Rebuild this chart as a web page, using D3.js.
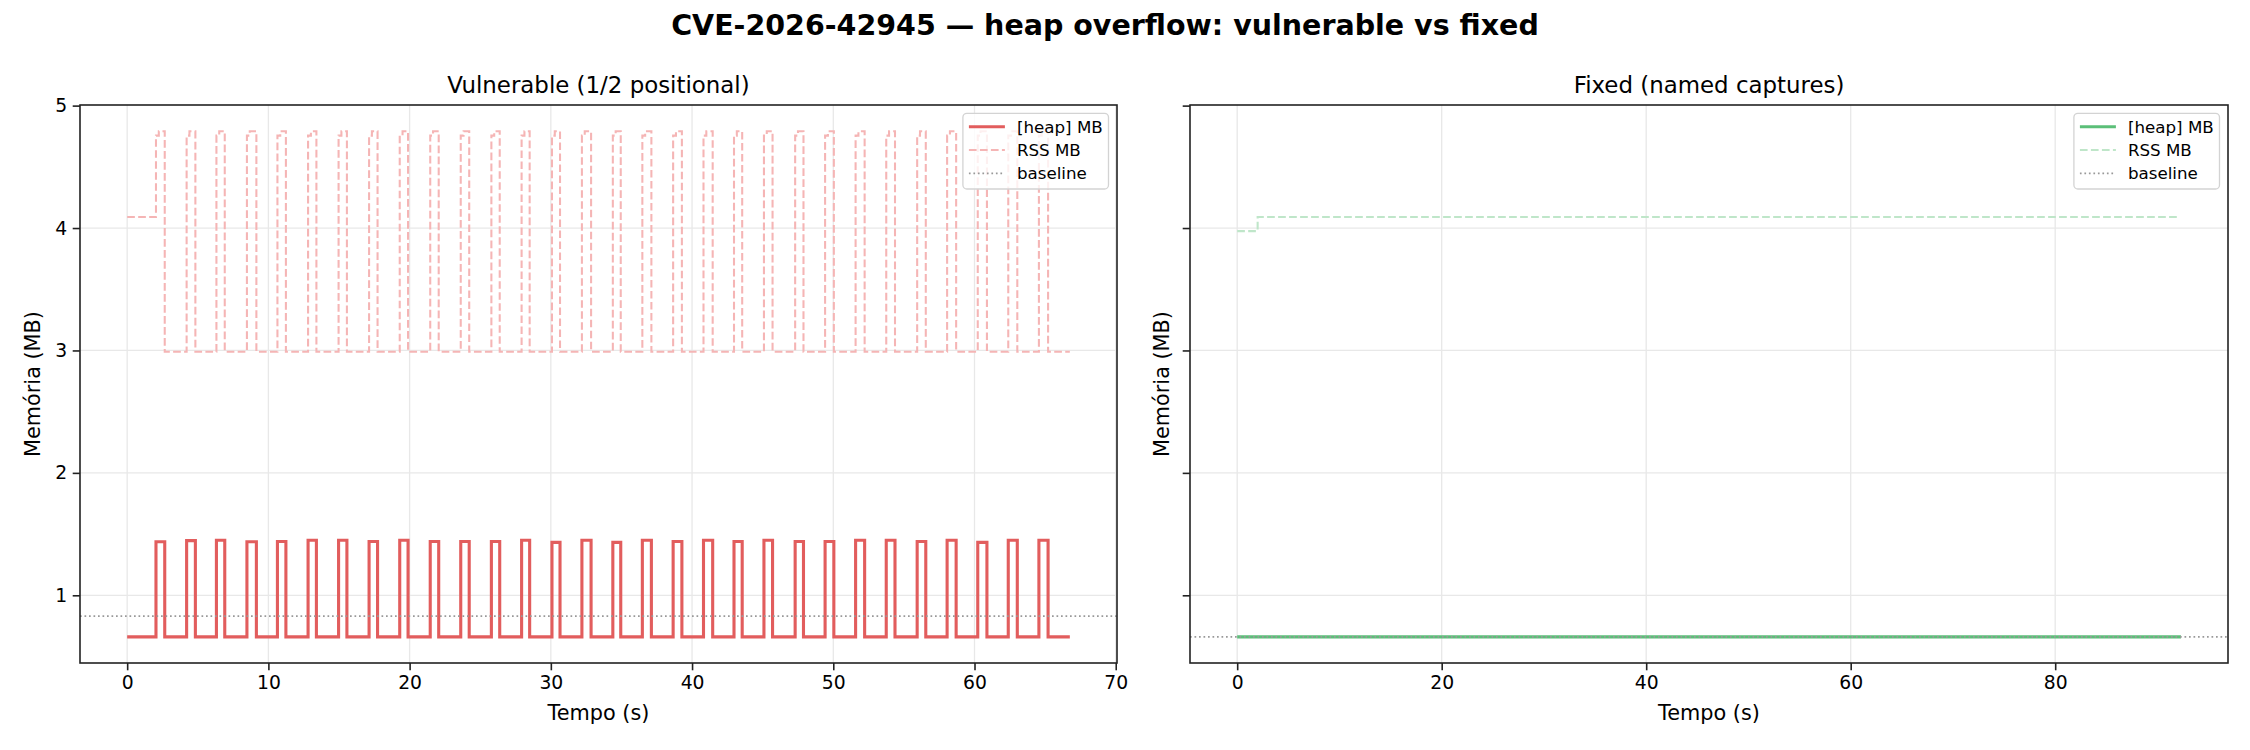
<!DOCTYPE html>
<html><head><meta charset="utf-8">
<script src="https://cdn.jsdelivr.net/npm/d3@7"></script>
<style>body{margin:0;background:#fff} text{font-family:"DejaVu Sans",sans-serif}</style>
</head><body><svg id="c" width="2250" height="750"></svg>
<script>
// ---------- data ----------
const vulnRise = [2.04, 4.21, 6.32, 8.48, 10.64, 12.81, 14.97, 17.13, 19.30, 21.46, 23.62, 25.79, 27.93, 30.08, 32.2,
                  34.39, 36.48, 38.66, 40.81, 42.97, 45.09, 47.3, 49.42, 51.58, 53.75, 55.94, 58.06, 60.23, 62.39, 64.56];
const vulnFall = [2.66, 4.83, 6.91, 9.15, 11.24, 13.40, 15.56, 17.73, 19.89, 22.06, 24.22, 26.38, 28.5, 30.65, 32.85,
                  34.95, 37.12, 39.28, 41.46, 43.55, 45.70, 47.89, 50.04, 52.22, 54.37, 56.55, 58.70, 60.88, 63.03, 65.21];
const vulnHeapPeak = [1.437, 1.447, 1.45, 1.437, 1.44, 1.45, 1.45, 1.44, 1.45, 1.44, 1.44, 1.44, 1.45, 1.432, 1.45,
                      1.432, 1.45, 1.44, 1.45, 1.44, 1.45, 1.44, 1.44, 1.45, 1.45, 1.44, 1.45, 1.432, 1.45, 1.45];
const vulnHeapLow = 0.66;
const vulnRssStart = 4.09;
const vulnRssRise = 4.755;
const vulnRssPeak = 4.79;
const vulnRssLow = 2.99;
const vulnRssStepDelay = 0.2;
const vulnEnd = 66.75;
const vulnBaseline = 0.83;

const fixedHeapTimes = [0, 92.3];
const fixedHeapValues = [0.66, 0.66];
const fixedRssTimes = [0, 2.0, 92.1];
const fixedRssValues = [3.975, 4.09, 4.09];
const fixedBaseline = 0.66;

const yTicks = [1, 2, 3, 4, 5];
const vulnXTicks = [0, 10, 20, 30, 40, 50, 60, 70];
const fixedXTicks = [0, 20, 40, 60, 80];
const legendLabels = ["[heap] MB", "RSS MB", "baseline"];

// ---------- build series ----------
const vulnHeap = [[0, vulnHeapLow]];
const vulnRss = [[0, vulnRssStart]];
vulnRise.forEach((r, i) => {
  vulnHeap.push([r, vulnHeapPeak[i]], [vulnFall[i], vulnHeapLow]);
  vulnRss.push([r, vulnRssRise], [r + vulnRssStepDelay, vulnRssPeak], [vulnFall[i], vulnRssLow]);
});
vulnHeap.push([vulnEnd, vulnHeapLow]);
vulnRss.push([vulnEnd, vulnRssLow]);
const fixedHeap = fixedHeapTimes.map((t, i) => [t, fixedHeapValues[i]]);
const fixedRss = fixedRssTimes.map((t, i) => [t, fixedRssValues[i]]);

// ---------- drawing ----------
const svg = d3.select("#c");
const yTop = 105, yBot = 663;
const y = d3.scaleLinear().domain([0.447, 5.005]).range([yBot, yTop]);

svg.append("text").attr("x", 1105).attr("y", 35).attr("text-anchor", "middle")
  .attr("font-size", 28.5).attr("font-weight", "bold").text("CVE-2026-42945 — heap overflow: vulnerable vs fixed");

const panels = [
  {x0: 80, x1: 1117, dom: [-3.34, 70.09], ticks: vulnXTicks, title: "Vulnerable (1/2 positional)",
   heap: vulnHeap, rss: vulnRss, base: vulnBaseline, col: "#e25d5d", rssCol: "#f5b5b5", ylabels: true, ylabelX: 40},
  {x0: 1190, x1: 2228, dom: [-4.615, 96.9], ticks: fixedXTicks, title: "Fixed (named captures)",
   heap: fixedHeap, rss: fixedRss, base: fixedBaseline, col: "#5bbf78", rssCol: "#bfe6c9", ylabels: false, ylabelX: 1169}
];

panels.forEach((p, pi) => {
  const x = d3.scaleLinear().domain(p.dom).range([p.x0, p.x1]);
  const g = svg.append("g");
  const clipId = "clip" + pi;
  svg.append("clipPath").attr("id", clipId).append("rect")
    .attr("x", p.x0).attr("y", yTop).attr("width", p.x1 - p.x0).attr("height", yBot - yTop);

  // grid
  g.selectAll(".gx").data(p.ticks.filter(t => x(t) > p.x0 + 1 && x(t) < p.x1 - 1)).enter().append("line")
    .attr("x1", d => x(d)).attr("x2", d => x(d)).attr("y1", yTop).attr("y2", yBot)
    .attr("stroke", "#e8e8e8").attr("stroke-width", 1.3);
  g.selectAll(".gy").data(yTicks.filter(t => y(t) > yTop + 1)).enter().append("line")
    .attr("x1", p.x0).attr("x2", p.x1).attr("y1", d => y(d)).attr("y2", d => y(d))
    .attr("stroke", "#e8e8e8").attr("stroke-width", 1.3);

  const line = d3.line().x(d => x(d[0])).y(d => y(d[1])).curve(d3.curveStepAfter);
  const dg = g.append("g").attr("clip-path", `url(#${clipId})`);
  dg.append("path").datum(p.heap).attr("d", line).attr("fill", "none")
    .attr("stroke", p.col).attr("stroke-width", 3.1).attr("stroke-linejoin", "miter");
  dg.append("path").datum(p.rss).attr("d", line).attr("fill", "none")
    .attr("stroke", p.rssCol).attr("stroke-width", 2.08).attr("stroke-dasharray", "7.7,3.3");
  dg.append("line").attr("x1", p.x0).attr("x2", p.x1).attr("y1", y(p.base)).attr("y2", y(p.base))
    .attr("stroke", "#999").attr("stroke-width", 1.7).attr("stroke-dasharray", "1.7,2.8");

  // axes
  const xa = d3.axisBottom(x).tickValues(p.ticks).tickFormat(d3.format("d"))
    .tickSize(7.3).tickPadding(5.5).tickSizeOuter(0);
  const gx = svg.append("g").attr("transform", `translate(0,${yBot})`).call(xa);
  const ya = d3.axisLeft(y).tickValues(yTicks).tickFormat(p.ylabels ? d3.format("d") : () => "")
    .tickSize(7.3).tickPadding(5.5).tickSizeOuter(0);
  const gy = svg.append("g").attr("transform", `translate(${p.x0},0)`).call(ya);
  [gx, gy].forEach(a => {
    a.select(".domain").remove();
    a.selectAll("line").attr("stroke", "#222").attr("stroke-width", 1.6);
    a.selectAll("text").attr("font-size", 18.75).attr("fill", "#000").attr("font-family", "DejaVu Sans");
  });

  // spines
  svg.append("rect").attr("x", p.x0).attr("y", yTop).attr("width", p.x1 - p.x0).attr("height", yBot - yTop)
    .attr("fill", "none").attr("stroke", "#222").attr("stroke-width", 1.6);

  // titles/labels
  svg.append("text").attr("x", (p.x0 + p.x1) / 2).attr("y", 92.5).attr("text-anchor", "middle")
    .attr("font-size", 22.9).text(p.title);
  svg.append("text").attr("x", (p.x0 + p.x1) / 2).attr("y", 720).attr("text-anchor", "middle")
    .attr("font-size", 20.8).text("Tempo (s)");
  svg.append("text").attr("transform", `translate(${p.ylabelX},${(yTop + yBot) / 2}) rotate(-90)`)
    .attr("text-anchor", "middle").attr("font-size", 20.8).text("Memória (MB)");

  // legend
  const bw = 145.6, bh = 75.7;
  const bx = p.x1 - 8.5 - bw, by = yTop + 8.3;
  const lg = svg.append("g");
  lg.append("rect").attr("x", bx).attr("y", by).attr("width", bw).attr("height", bh).attr("rx", 4)
    .attr("fill", "#fff").attr("fill-opacity", 0.8).attr("stroke", "#d3d3d3").attr("stroke-width", 1.3);
  const styles = [
    {c: p.col, w: 3.1, da: null},
    {c: p.rssCol, w: 2.08, da: "7.7,3.3"},
    {c: "#999", w: 1.7, da: "1.7,2.8"}
  ];
  legendLabels.forEach((lab, i) => {
    const cy = by + 13.4 + i * 23.3;
    const l = lg.append("line").attr("x1", bx + 6).attr("x2", bx + 42).attr("y1", cy).attr("y2", cy)
      .attr("stroke", styles[i].c).attr("stroke-width", styles[i].w);
    if (styles[i].da) l.attr("stroke-dasharray", styles[i].da);
    lg.append("text").attr("x", bx + 54).attr("y", cy + 6).attr("font-size", 16.7).text(lab);
  });
});
</script></body></html>
